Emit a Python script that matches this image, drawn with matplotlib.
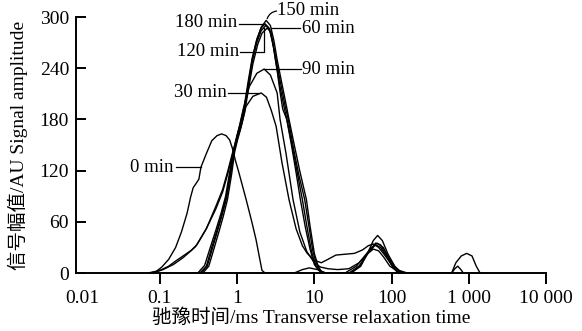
import matplotlib
matplotlib.use("Agg")
import matplotlib.pyplot as plt

plt.rcParams['font.family'] = ['Liberation Serif', 'Noto Sans CJK SC']

# ---------------- data ----------------
t_0 = [0.07, 0.09, 0.106, 0.13, 0.16, 0.19, 0.225, 0.25, 0.27, 0.29, 0.32, 0.34, 0.40, 0.47,
       0.55, 0.63, 0.72, 0.80, 0.87, 0.95, 1.06, 1.31, 1.55, 1.76, 1.95, 2.1, 2.3,
       5.5, 7.0, 8.6, 11, 14, 600, 680, 800, 940, 1100, 1250, 1400]
a_0 = [0, 2, 7, 16, 30, 48, 70, 89, 100, 104, 110, 124, 140, 155,
       161, 163, 161, 156, 146, 132, 117, 86, 60, 39, 18, 3, 0,
       0, 4, 6, 4, 0, 0, 12, 20, 23, 20, 8, 0]

t_30 = [0.075, 0.1, 0.13, 0.16, 0.2, 0.25, 0.29, 0.32, 0.4, 0.53, 0.65, 0.76, 0.88, 1.0, 1.15,
        1.3, 1.6, 2.05, 2.4, 2.76, 3.2, 3.8, 4.7, 5.8, 7.0, 8.1, 10, 12.3, 15, 19, 25, 33,
        42, 50, 58, 68, 80, 100, 125, 160, 600, 660, 720, 790, 850]
a_30 = [0, 3, 8, 14, 20, 26, 31, 37, 52, 75, 95, 117, 140, 156, 175,
        195, 207, 211, 206, 191, 172, 130, 86, 52, 32, 23, 15, 12, 16, 21, 22, 23,
        27, 32, 34, 30, 22, 10, 3, 0, 0, 5, 8, 4, 0]

t_60 = [0.36, 0.43, 0.50, 0.58, 0.66, 0.75, 0.85, 0.93, 1.02, 1.12, 1.25, 1.42, 1.6, 1.85, 2.1,
        2.45, 2.75, 3.0, 3.3, 3.6, 3.9, 4.4, 5.1, 5.8, 6.6, 7.6, 8.8, 10, 11.5, 13,
        25, 35, 45, 55, 65, 78, 95, 115, 140]
a_60 = [0, 8, 28, 48, 66, 86, 116, 142, 157, 170, 188, 218, 245, 268, 281,
        287, 282, 262, 238, 212, 192, 180, 148, 118, 86, 55, 28, 10, 3, 0,
        0, 8, 20, 30, 35, 30, 16, 5, 0]

t_90 = [0.08, 0.11, 0.15, 0.2, 0.26, 0.3, 0.4, 0.53, 0.65, 0.76, 0.88, 1.0, 1.2, 1.43, 1.8,
        2.24, 2.7, 3.3, 3.6, 4.3, 5.3, 6.5, 8, 10, 12, 15, 20, 28, 38, 48, 58, 68, 80,
        95, 120, 150]
a_90 = [0, 4, 10, 18, 27, 33, 52, 78, 98, 120, 142, 160, 192, 218, 234,
        239, 232, 211, 180, 140, 86, 48, 25, 12, 7, 5, 4, 5, 12, 22, 28, 26, 18,
        8, 2, 0]

t_120 = [0.34, 0.41, 0.48, 0.56, 0.64, 0.73, 0.83, 0.92, 1.0, 1.1, 1.23, 1.4, 1.57, 1.8, 2.05,
         2.35, 2.65, 2.95, 3.2, 3.6, 4.0, 4.4, 5.2, 6.0, 7.0, 8.0, 9.2, 10.4, 11.8, 13,
         30, 40, 52, 62, 72, 85, 100, 120]
a_120 = [0, 8, 29, 50, 68, 88, 117, 143, 158, 171, 189, 220, 248, 270, 284,
         290, 285, 265, 245, 218, 197, 180, 148, 118, 86, 55, 25, 8, 2, 0,
         0, 10, 26, 35, 33, 22, 10, 0]

t_150 = [0.33, 0.40, 0.47, 0.55, 0.63, 0.72, 0.82, 0.91, 1.0, 1.1, 1.23, 1.4, 1.57, 1.8, 2.05,
         2.38, 2.7, 3.0, 3.3, 3.8, 4.3, 4.7, 5.5, 6.5, 7.9, 8.8, 10, 11.2, 12.3, 14,
         30, 40, 50, 58, 66, 76, 90, 110, 135]
a_150 = [0, 8, 30, 50, 68, 88, 118, 144, 160, 173, 191, 222, 250, 273, 288,
         296, 290, 272, 250, 222, 198, 180, 150, 119, 86, 55, 23, 8, 2, 0,
         0, 8, 25, 38, 44, 38, 22, 8, 0]

t_180 = [0.31, 0.38, 0.45, 0.53, 0.62, 0.71, 0.80, 0.90, 1.0, 1.1, 1.23, 1.4, 1.57, 1.8, 2.05,
         2.3, 2.6, 2.9, 3.2, 3.7, 4.2, 4.6, 5.4, 6.3, 7.5, 8.5, 9.6, 10.9, 12, 13.5,
         28, 38, 50, 62, 72, 88, 105, 125]
a_180 = [0, 9, 30, 50, 70, 90, 118, 144, 162, 175, 194, 226, 252, 274, 287,
         292, 287, 270, 250, 220, 195, 180, 145, 115, 86, 55, 25, 8, 2, 0,
         0, 8, 24, 33, 30, 18, 6, 0]

series = [(t_0, a_0), (t_30, a_30), (t_60, a_60), (t_90, a_90),
          (t_120, a_120), (t_150, a_150), (t_180, a_180)]

x_ticks = [0.01, 0.1, 1, 10, 100, 1000, 10000]
x_tick_labels = ['0.01', '0.1', '1', '10', '100', '1 000', '10 000']
y_ticks = [0, 60, 120, 180, 240, 300]

# ---------------- figure ----------------
fig = plt.figure(figsize=(5.82, 3.31), dpi=100)
ax = fig.add_axes([76 / 582, 1 - 273 / 331, 470 / 582, 256 / 331])

for t, a in series:
    ax.plot(t, a, color='black', lw=1.0, solid_joinstyle='round')

ax.set_xscale('log')
ax.set_xlim(0.0082, 10000)
ax.set_ylim(0, 300)
ax.set_xticks(x_ticks)
ax.set_xticklabels(x_tick_labels)
ax.minorticks_off()
ax.set_yticks(y_ticks)

for s in ['top', 'right']:
    ax.spines[s].set_visible(False)
for s in ['left', 'bottom']:
    ax.spines[s].set_linewidth(1.4)

tfs = 14
ax.tick_params(axis='x', direction='out', length=8, width=1.4, labelsize=tfs, pad=4)
ax.tick_params(axis='y', direction='in', length=7, width=1.4, labelsize=tfs, pad=5)
ax.xaxis.get_major_ticks()[0].tick1line.set_visible(False)

ax.set_xlabel('驰豫时间/ms Transverse relaxation time', fontsize=14, labelpad=1)
ax.set_ylabel('信号幅值/AU Signal amplitude', fontsize=14, labelpad=8)

# ---------------- labels with leader lines ----------------
fs = 13.5
lk = dict(color='black', lw=0.9, clip_on=False)

ax.text(0.152, 124, '0 min', ha='right', va='center', fontsize=fs)
ax.plot([0.16, 0.34], [124, 124], **lk)

ax.text(0.74, 211, '30 min', ha='right', va='center', fontsize=fs)
ax.plot([0.77, 1.93], [211, 211], **lk)

ax.text(1.0, 293, '180 min', ha='right', va='center', fontsize=fs)
ax.plot([1.05, 2.24], [292, 292], **lk)

ax.text(1.06, 259, '120 min', ha='right', va='center', fontsize=fs)
ax.plot([1.1, 2.24, 2.24], [259, 259, 287], **lk)

ax.text(6.9, 287, '60 min', ha='left', va='center', fontsize=fs)
ax.plot([2.76, 6.6], [287, 287], **lk)

ax.text(7.0, 238, '90 min', ha='left', va='center', fontsize=fs)
ax.plot([2.24, 6.7], [239, 239], **lk)

ax.text(3.3, 308, '150 min', ha='left', va='center', fontsize=fs, clip_on=False)
ax.annotate('', xy=(2.45, 298), xytext=(3.25, 307),
            arrowprops=dict(arrowstyle='-', color='black', lw=0.9,
                            connectionstyle='arc3,rad=0.3', shrinkA=0, shrinkB=0),
            annotation_clip=False)

fig.savefig('out.png', dpi=100)
